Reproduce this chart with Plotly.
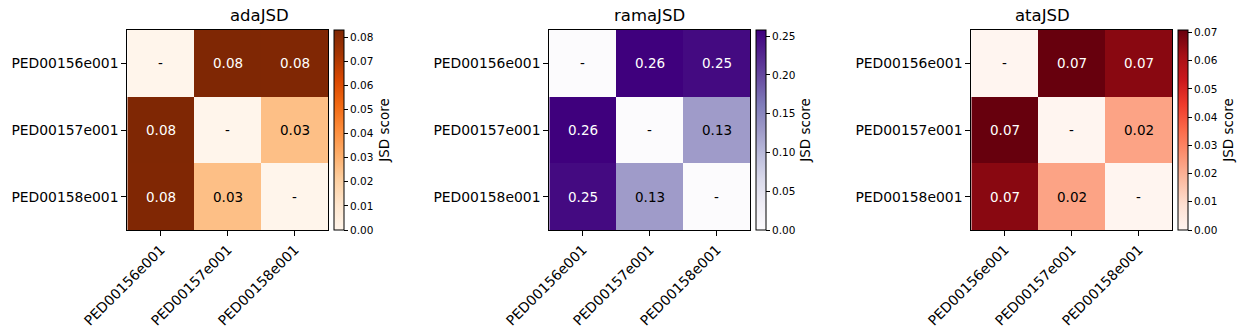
import plotly.graph_objects as go

labels = ["PED00156e001", "PED00157e001", "PED00158e001"]
titles = ["adaJSD", "ramaJSD", "ataJSD"]
ada = [[0.0, 0.0829, 0.0826], [0.0829, 0.0, 0.026], [0.0826, 0.026, 0.0]]
rama = [[0.0, 0.258, 0.250], [0.258, 0.0, 0.128], [0.250, 0.128, 0.0]]
ata = [[0.0, 0.0709, 0.066], [0.0709, 0.0, 0.023], [0.066, 0.023, 0.0]]
matrices = [ada, rama, ata]
scales = ["Oranges", "Purples", "Reds"]
dticks = [0.01, 0.05, 0.01]

W, H = 1250, 336
hm_left = [127.3, 549.3, 971.3]
hm_w = 201.0
top, bottom = 30.0, 230.0
FONT = "DejaVu Sans"

fig = go.Figure()
annotations = []
for i, (m, cs, dt, ttl) in enumerate(zip(matrices, scales, dticks, titles)):
    xa = "x" if i == 0 else f"x{i+1}"
    ya = "y" if i == 0 else f"y{i+1}"
    zmax = max(max(r) for r in m)
    x0 = hm_left[i] / W
    x1 = (hm_left[i] + hm_w) / W
    cb_left = (hm_left[i] + hm_w + 5.5) / W
    fig.add_trace(go.Heatmap(
        z=m, x=labels, y=labels, colorscale=cs, zmin=0, zmax=zmax,
        xaxis=xa, yaxis=ya, hoverongaps=False,
        colorbar=dict(
            x=cb_left, xanchor="left", xref="paper", xpad=0, ypad=0,
            y=1 - top / H, yanchor="top", yref="paper",
            len=(bottom - top) / H, lenmode="fraction",
            thickness=10, thicknessmode="pixels",
            outlinewidth=1, outlinecolor="black",
            ticks="outside", ticklen=4, tickcolor="black", tickwidth=1,
            dtick=dt, tick0=0, tickformat=".2f",
            tickfont=dict(family=FONT, size=10.5, color="black"),
            title=dict(text="JSD score", side="right",
                       font=dict(family=FONT, size=13.5, color="black")),
        ),
    ))
    axis_common = dict(showline=True, mirror=True, linecolor="black", linewidth=1,
                       ticks="outside", ticklen=5, tickcolor="black", tickwidth=1,
                       tickfont=dict(family=FONT, size=13.9, color="black"),
                       showgrid=False, zeroline=False, automargin=False)
    fig.update_layout(**{
        ("xaxis" if i == 0 else f"xaxis{i+1}"): dict(domain=[x0, x1], anchor=ya,
                                                    tickangle=-45, **axis_common),
        ("yaxis" if i == 0 else f"yaxis{i+1}"): dict(domain=[1 - bottom / H, 1 - top / H],
                                                    anchor=xa, autorange="reversed",
                                                    **axis_common),
    })
    for r in range(3):
        for c in range(3):
            v = m[r][c]
            txt = "-" if r == c else f"{v:.2f}"
            col = "white" if v > 0.6 * zmax else "black"
            annotations.append(dict(x=labels[c], y=labels[r], xref=xa, yref=ya,
                                    text=txt, showarrow=False,
                                    font=dict(family=FONT, size=13.5, color=col)))
    annotations.append(dict(x=(x0 + x1) / 2, y=1 - top / H, xref="paper", yref="paper",
                            text=ttl, showarrow=False, yanchor="bottom", yshift=3,
                            font=dict(family=FONT, size=16.5, color="black")))

fig.update_layout(width=W, height=H,
                  margin=dict(l=0, r=0, t=0, b=0, pad=0, autoexpand=False),
                  paper_bgcolor="white", plot_bgcolor="white",
                  annotations=annotations, font=dict(family=FONT))
fig.write_html("out.html")
